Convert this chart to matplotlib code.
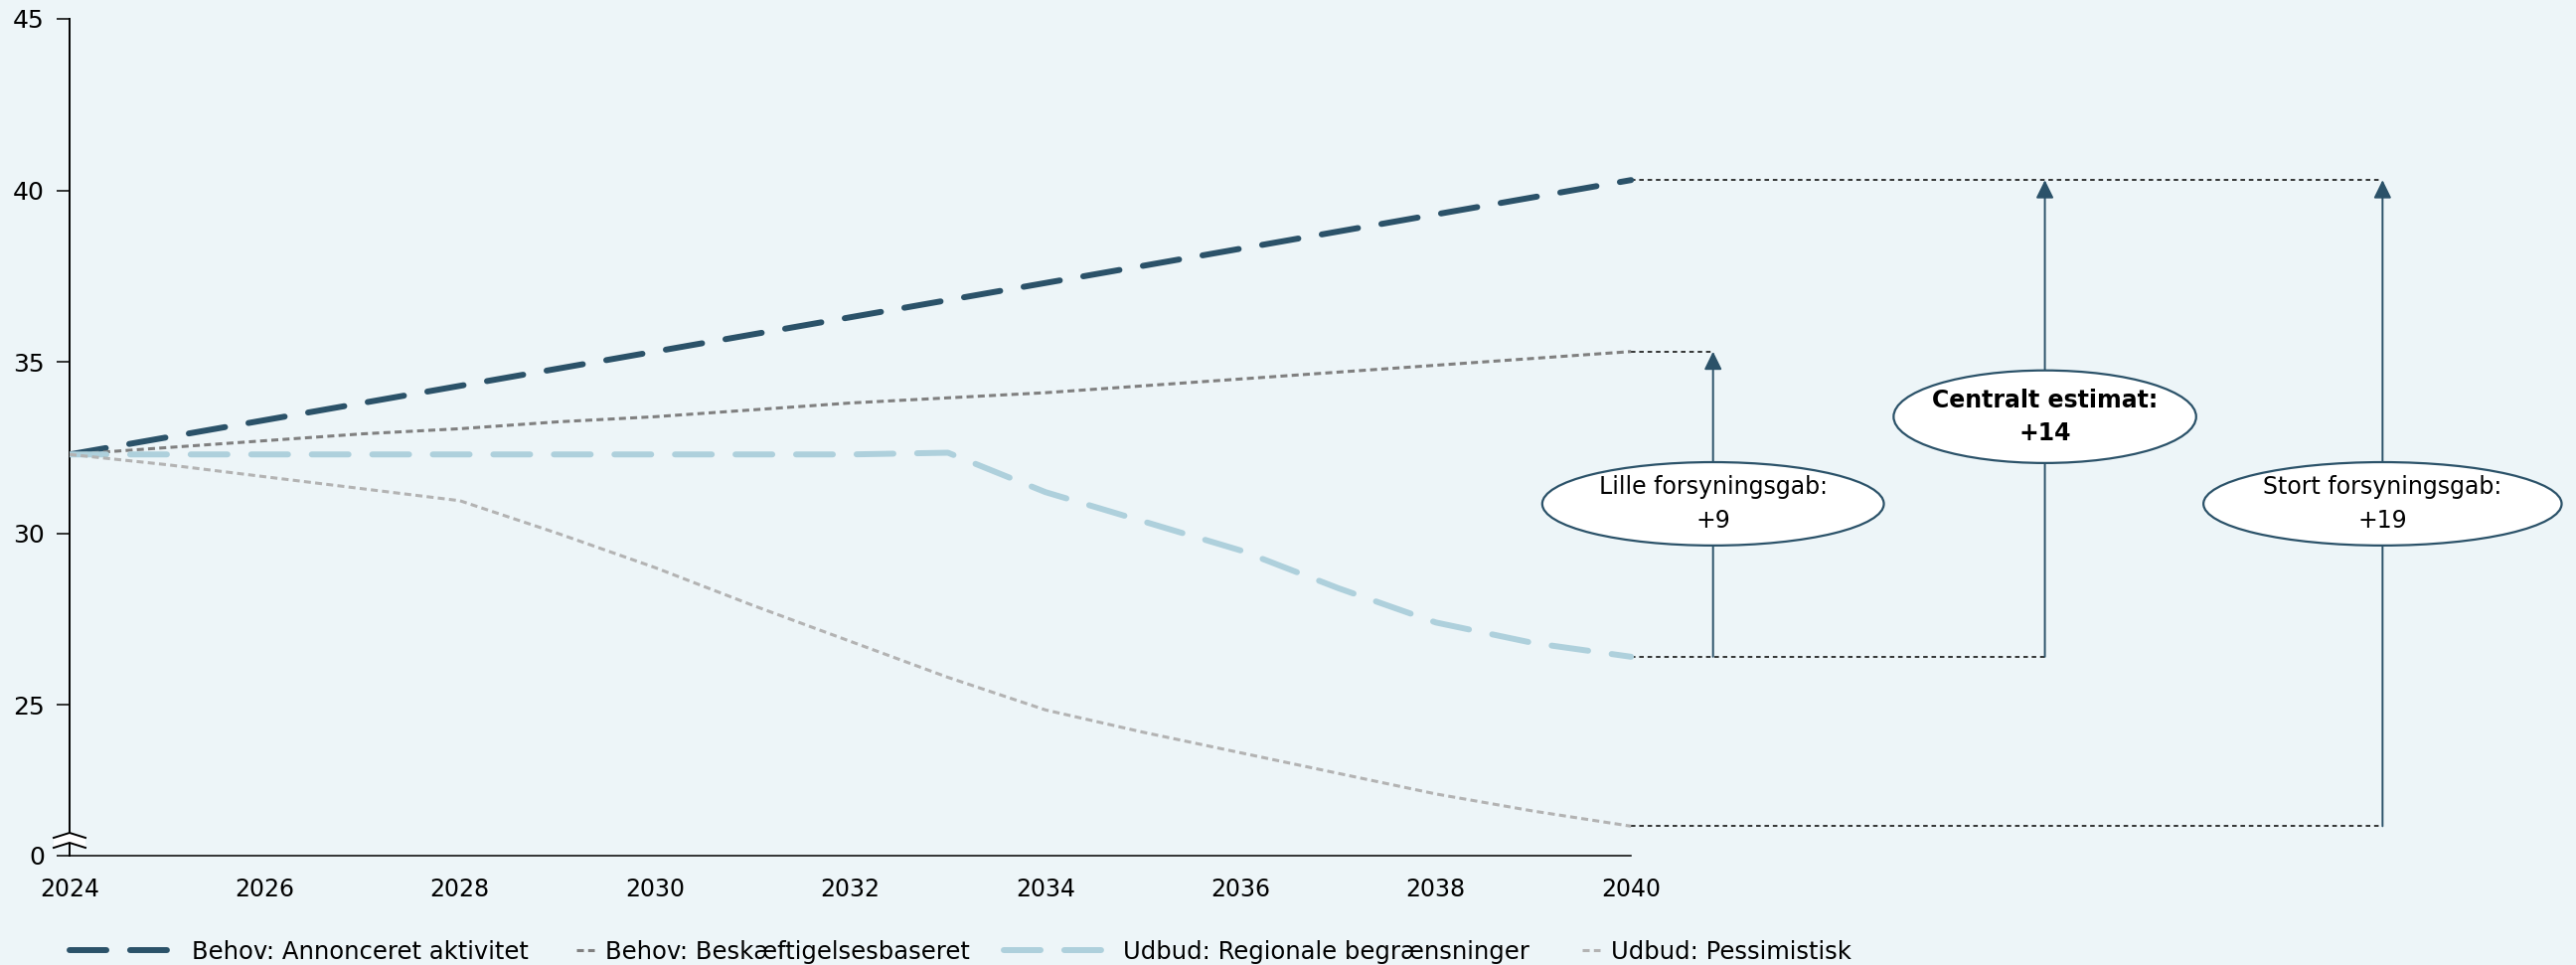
import numpy as np
import matplotlib.pyplot as plt
from matplotlib.patches import Ellipse, FancyArrowPatch, Polygon
from matplotlib.lines import Line2D

plt.rcParams['font.family'] = ['DejaVu Sans']

# data
years = np.arange(2024, 2041)
behov_annonceret = [32.3, 32.8, 33.3, 33.8, 34.3, 34.8, 35.3, 35.8, 36.3,
                    36.8, 37.3, 37.8, 38.3, 38.8, 39.3, 39.8, 40.3]
behov_beskaeft = [32.3, 32.5, 32.7, 32.9, 33.05, 33.25, 33.4, 33.6, 33.8,
                  33.95, 34.1, 34.3, 34.5, 34.7, 34.9, 35.1, 35.3]
udbud_regional = [32.3, 32.3, 32.3, 32.3, 32.3, 32.3, 32.3, 32.3, 32.3,
                  32.35, 31.2, 30.35, 29.5, 28.4, 27.4, 26.8, 26.4]
udbud_pessim = [32.3, 32.0, 31.65, 31.3, 30.95, 30.0, 29.0, 27.9, 26.85,
                25.8, 24.85, 24.2, 23.6, 23.0, 22.4, 21.9, 21.46]

labels = ['Behov: Annonceret aktivitet', 'Behov: Beskæftigelsesbaseret',
          'Udbud: Regionale begrænsninger', 'Udbud: Pessimistisk']
gap_labels = ['Lille forsyningsgab:\n+9', 'Centralt estimat:\n+14', 'Stort forsyningsgab:\n+19']

yticks = [20.6, 25, 30, 35, 40, 45]
ytick_labels = ['0', '25', '30', '35', '40', '45']
xticks = list(range(2024, 2041, 2))

navy = '#2b5269'
lightblue = '#aed0dc'
bg = '#edf5f8'

fig = plt.figure(figsize=(25.92, 9.71), dpi=100)
fig.patch.set_facecolor(bg)
ax = fig.add_axes([70/2592, 110/971, 1 - 70/2592, (971 - 19 - 110)/971])
ax.set_facecolor(bg)
ax.set_xlim(2024, 2024 + (2592 - 70)/98.2)
ax.set_ylim(20.6, 45)

l1, = ax.plot(years, behov_annonceret, color=navy, lw=4.3, dashes=(6.2, 4.0),
              dash_capstyle='round', zorder=3)
l2, = ax.plot(years, behov_beskaeft, color='#808080', lw=2.2, dashes=(2.3, 1.4), zorder=3)
l3, = ax.plot(years, udbud_regional, color=lightblue, lw=4.3, dashes=(6.2, 4.0),
              dash_capstyle='round', zorder=3)
l4, = ax.plot(years, udbud_pessim, color='#b3b3b3', lw=2.2, dashes=(2.3, 1.4), zorder=3)

# gap annotations
top = behov_annonceret[-1]
mid = behov_beskaeft[-1]
reg = udbud_regional[-1]
low = udbud_pessim[-1]
arrow_x = [2040.84, 2044.24, 2047.7]
spans = [(reg, mid), (reg, top), (low, top)]
ell_y = [30.86, 33.4, 30.86]
ell_w = [3.5, 3.1, 3.67]
ell_h = [2.43, 2.7, 2.43]

dot = dict(color='black', lw=1.1, dashes=(3, 2.5), zorder=2)
ax.plot([2040, arrow_x[2]], [top, top], **dot)
ax.plot([2040, arrow_x[0]], [mid, mid], **dot)
ax.plot([2040, arrow_x[1]], [reg, reg], **dot)
ax.plot([2040, arrow_x[2]], [low, low], **dot)

for i in range(3):
    a = FancyArrowPatch((arrow_x[i], spans[i][0]), (arrow_x[i], spans[i][1]),
                        arrowstyle='-|>,head_length=0.55,head_width=0.27',
                        mutation_scale=20, color=navy, lw=1.4,
                        shrinkA=0, shrinkB=0, zorder=4)
    ax.add_patch(a)
    e = Ellipse((arrow_x[i], ell_y[i]), ell_w[i], ell_h[i], facecolor='white',
                edgecolor=navy, lw=1.6, zorder=5)
    ax.add_patch(e)
    ax.text(arrow_x[i], ell_y[i], gap_labels[i], ha='center', va='center',
            fontsize=17, fontweight='bold' if i == 1 else 'normal',
            linespacing=1.5, zorder=6)

# axes styling
for s in ['top', 'right']:
    ax.spines[s].set_visible(False)
ax.spines['left'].set_bounds(20.6, 45)
ax.spines['bottom'].set_bounds(2024, 2040)
ax.spines['left'].set_linewidth(1.4)
ax.spines['bottom'].set_linewidth(1.1)
ax.set_xticks(xticks)
ax.set_yticks(yticks)
ax.set_yticklabels(ytick_labels)
ax.tick_params(axis='x', length=0, pad=16, labelsize=17)
ax.tick_params(axis='y', length=9.4, width=1.1, pad=8.6, labelsize=18)

# axis break mark
dx = 16/2522
hy = 1/842
ax.add_patch(Polygon([(-dx, 18*hy), (0, 23*hy), (dx, 18*hy), (dx, 8*hy), (0, 13*hy), (-dx, 8*hy)],
                     closed=True, facecolor='white', edgecolor='none',
                     transform=ax.transAxes, clip_on=False, zorder=10))
for yy in [23, 13]:
    ax.add_line(Line2D([-dx, 0, dx], [(yy - 5)*hy, yy*hy, (yy - 5)*hy], color='black', lw=1.4,
                       transform=ax.transAxes, clip_on=False, zorder=11))

# legend: one entry per legend so the handle lengths can differ
leg_x = [70, 580, 1010, 1592]
leg_len = [4.6, 0.75, 4.5, 0.75]
for h, lab, x, hl in zip([l1, l2, l3, l4], labels, leg_x, leg_len):
    fig.legend([h], [lab], loc='center left', bbox_to_anchor=(x/2592, 13/971),
               frameon=False, handlelength=hl, handletextpad=0.45,
               borderpad=0, borderaxespad=0, fontsize=17.5)

fig.savefig('out.png', dpi=100, facecolor=bg)
